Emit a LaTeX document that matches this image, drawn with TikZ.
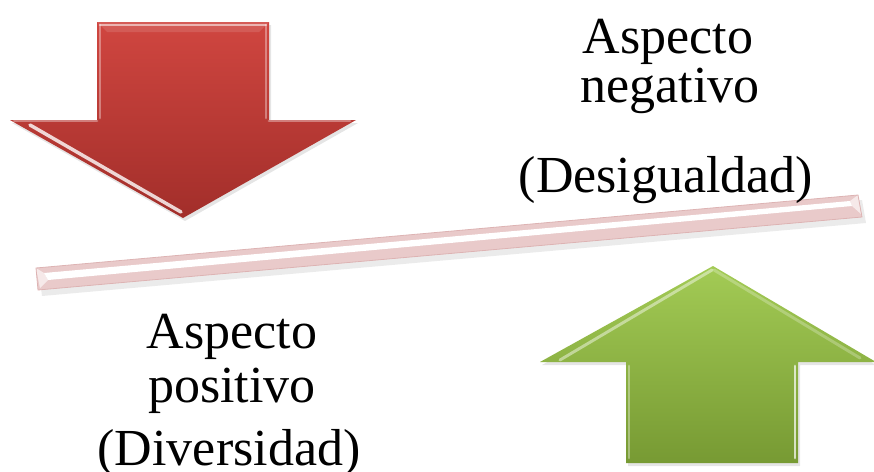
\documentclass[tikz,border=0pt]{standalone}
\usepackage{fontspec}
\setmainfont{Liberation Serif}
\definecolor{redtop}{HTML}{D04640}
\definecolor{redbot}{HTML}{A22E2A}
\definecolor{greentop}{HTML}{A3CB55}
\definecolor{greenbot}{HTML}{779A33}
\definecolor{barpink}{HTML}{E9CACA}
\definecolor{baredge}{HTML}{DDB3B3}
\tikzset{
  lbl/.style={anchor=base, inner sep=0pt, font=\fontsize{39}{39}\selectfont},
  hilite/.style={white, opacity=0.55, line width=2.2pt, line cap=round, line join=round},
  dropsh/.style={fill=black, fill opacity=0.10}
}
\begin{document}
\begin{tikzpicture}[x=0.75pt,y=-0.75pt]
\useasboundingbox (0,0) rectangle (874,471);
% ---------- red arrow ----------
\path[dropsh] (99,25) -- (271,25) -- (271,123) -- (358,123) -- (185,221) -- (12,123) -- (99,123) -- cycle;
\shade[top color=redtop, bottom color=redbot]
  (97,22) -- (269,22) -- (269,120) -- (356,120) -- (183,218) -- (10,120) -- (97,120) -- cycle;
\draw[hilite] (100,25) -- (266,25);
\draw[hilite, opacity=0.35] (100,25) -- (100,118);
\draw[hilite, opacity=0.35] (266,25) -- (266,118);
\draw[hilite, opacity=0.8, line width=2.6pt] (30,125) -- (181,212);
\draw[hilite, opacity=0.35] (14,121) -- (97,121);
\draw[hilite, opacity=0.35] (269,121) -- (350,121);
\fill[white, opacity=0.12] (97,22) -- (269,22) -- (259,32) -- (107,32) -- cycle;
% ---------- green arrow ----------
\path[dropsh] (715,269) -- (876,365) -- (800,365) -- (800,466) -- (628,466) -- (628,365) -- (542,365) -- cycle;
\shade[top color=greentop, bottom color=greenbot]
  (713,266) -- (876,362) -- (798,362) -- (798,463) -- (626,463) -- (626,362) -- (540,362) -- cycle;
\draw[hilite, opacity=0.45] (712,270) -- (560,360);
\draw[hilite, opacity=0.25] (714,270) -- (860,358);
\draw[hilite, opacity=0.7] (795,366) -- (795,458);
\draw[hilite, opacity=0.35] (629,366) -- (629,458);
% ---------- bar ----------
\path[dropsh, fill opacity=0.08] (39,273) -- (862,200) -- (866,223) -- (42,296) -- cycle;
\fill[barpink] (36,268) -- (858,195) -- (862,217) -- (38,290) -- cycle;
\fill[white] (44,273) -- (850,201) -- (852,206) -- (48,280) -- cycle;
\fill[white, opacity=0.6] (36,268) -- (44,273) -- (48,280) -- (40,288) -- cycle;
\fill[white, opacity=0.6] (858,195) -- (850,201) -- (852,206) -- (861,214) -- cycle;
\draw[baredge, line width=0.6pt] (36,268) -- (858,195) -- (862,217) -- (38,290) -- cycle;
% ---------- texts ----------
\node[lbl] (n1) at (668,53) {Aspecto};
\node[lbl] (n2) at (670,102) {negativo};
\node[lbl] (n3) at (666,192) {(Desigualdad)};
\node[lbl] (p1) at (232,348) {Aspecto};
\node[lbl] (p2) at (232,402) {positivo};
\node[lbl] (p3) at (229,465) {(Diversidad)};
\end{tikzpicture}
\end{document}
